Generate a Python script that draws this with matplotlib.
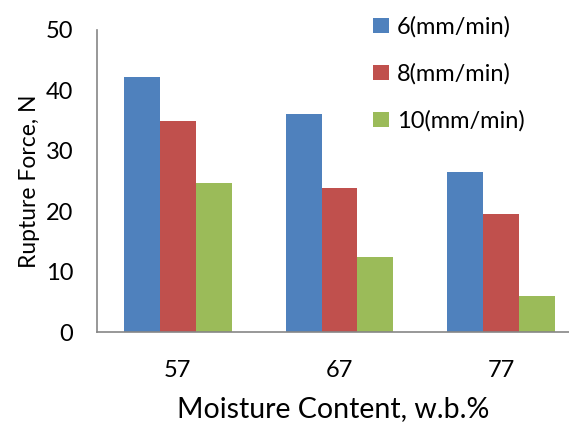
import matplotlib
matplotlib.use("Agg")
import matplotlib.pyplot as plt
import numpy as np

plt.rcParams['font.family'] = ['Lato', 'DejaVu Sans']

moisture = ['57', '67', '77']
speeds = ['6(mm/min)', '8(mm/min)', '10(mm/min)']
force_6 = [42.3, 36.1, 26.5]
force_8 = [34.9, 23.8, 19.6]
force_10 = [24.7, 12.4, 6.0]
colors = ['#4F81BD', '#C0504D', '#9BBB59']

fig = plt.figure(figsize=(5.69, 4.23), dpi=100)
ax = fig.add_axes([97 / 569, 91 / 423, 472 / 569, 302 / 423])

x = np.arange(len(moisture))
w = 0.222
for i, (vals, lab) in enumerate(zip([force_6, force_8, force_10], speeds)):
    ax.bar(x + (i - 1) * w, vals, width=w, color=colors[i], label=lab)

ax.set_xlim(-0.5, 2.42)
ax.set_ylim(0, 50)
ax.set_yticks(range(0, 51, 10))
ax.set_xticks(x)
ax.set_xticklabels(moisture)
ax.tick_params(axis='both', length=0, labelsize=17, colors='black')
ax.tick_params(axis='x', pad=20)
ax.tick_params(axis='y', pad=17)
for s in ['top', 'right']:
    ax.spines[s].set_visible(False)
for s in ['left', 'bottom']:
    ax.spines[s].set_color('#868686')
    ax.spines[s].set_linewidth(1.2)

ax.set_ylabel('Rupture Force, N', fontsize=16.5, labelpad=4)
ax.set_xlabel('Moisture Content, w.b.%', fontsize=20.5, labelpad=11)

fig.legend(loc='upper left', bbox_to_anchor=(352 / 569, 1 + 5 / 423), frameon=False,
           fontsize=17, handlelength=0.65, handleheight=0.65, handletextpad=0.35,
           labelspacing=1.08)

fig.savefig('out.png', dpi=100)
